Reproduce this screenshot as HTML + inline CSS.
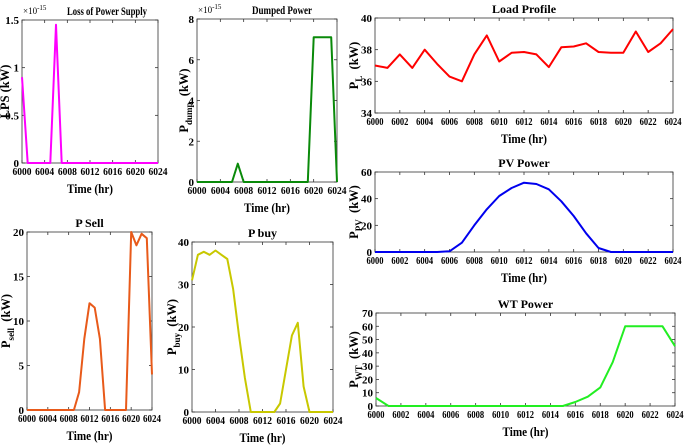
<!DOCTYPE html>
<html><head><meta charset="utf-8"><style>
body{margin:0;background:#fff}
svg{display:block;font-family:"Liberation Serif",serif;font-weight:bold}
</style></head><body>
<svg id="c" width="685" height="447" viewBox="0 0 685 447"></svg>
<script>
const hours=[6000,6001,6002,6003,6004,6005,6006,6007,6008,6009,6010,6011,6012,6013,6014,6015,6016,6017,6018,6019,6020,6021,6022,6023,6024];
const lpsValues=[0.9,0,0,0,0,0,1.45,0,0,0,0,0,0,0,0,0,0,0,0,0,0,0,0,0,0];
const dumpValues=[0,0,0,0,0,0,0,0.9,0,0,0,0,0,0,0,0,0,0,0,0,7.1,7.1,7.1,7.1,0];
const loadValues=[37,36.85,37.7,36.85,38,37.1,36.3,36,37.7,38.9,37.25,37.8,37.85,37.7,36.9,38.15,38.2,38.4,37.85,37.8,37.8,39.15,37.85,38.4,39.3];
const pvValues=[0,0,0,0,0,0,0.5,7,20,32,42,48,52,51,47,38,27,14,3,0,0,0,0,0,0];
const wtValues=[6,0,0,0,0,0,0,0,0,0,0,0,0,0,0,0,3,7,14,33,60,60,60,60,45];
const sellValues=[0,0,0,0,0,0,0,0,0,0,2,8,12,11.5,8,0,0,0,0,0,20,18.5,19.8,19.3,4];
const buyValues=[31,37,37.7,37,38,37,36,29,18,8,0,0,0,0,0,2,10,18,21,6,0,0,0,0,0];
const xTicks4=[6000,6004,6008,6012,6016,6020,6024];
const xTicks2=[6000,6002,6004,6006,6008,6010,6012,6014,6016,6018,6020,6022,6024];
const lpsTicks=[0,0.5,1,1.5];
const dumpTicks=[0,2,4,6,8];
const loadTicks=[34,36,38,40];
const pvTicks=[0,20,40,60];
const wtTicks=[0,10,20,30,40,50,60,70];
const sellTicks=[0,5,10,15,20];
const buyTicks=[0,10,20,30,40];

const NS='http://www.w3.org/2000/svg';
const svg=document.getElementById('c');
function mk(tag,attrs,parent,txt){const e=document.createElementNS(NS,tag);for(const k in attrs)e.setAttribute(k,attrs[k]);if(txt!==undefined)e.textContent=txt;(parent||svg).appendChild(e);return e;}

function panel(p){
  const g=mk('g',{});
  
  
  const sx=v=>p.x0+(v-6000)/24*(p.x1-p.x0);
  const sy=v=>p.y0-(v-p.ymin)/(p.ymax-p.ymin)*(p.y0-p.y1);
  const box=mk('rect',{x:p.x0,y:p.y1,width:p.x1-p.x0,height:p.y0-p.y1,fill:'#fff',stroke:'#333','stroke-width':0.8},g);
  
  
  p.xt.forEach(t=>{const x=sx(t);
    mk('line',{x1:x,x2:x,y1:p.y0,y2:p.y0-3,stroke:'#333','stroke-width':0.8},g);
    mk('line',{x1:x,x2:x,y1:p.y1,y2:p.y1+3,stroke:'#333','stroke-width':0.8},g);
    const tl=mk('text',{x:x,y:p.y0+12,'text-anchor':'middle','font-size':11,textLength:p.tw,lengthAdjust:'spacingAndGlyphs'},g,String(t));
    
    
  });
  p.yt.forEach(t=>{const y=sy(t);
    mk('line',{x1:p.x0,x2:p.x0+3,y1:y,y2:y,stroke:'#333','stroke-width':0.8},g);
    mk('line',{x1:p.x1,x2:p.x1-3,y1:y,y2:y,stroke:'#333','stroke-width':0.8},g);
    const tl=mk('text',{x:p.x0-3,y:y+4,'text-anchor':'end','font-size':11},g,String(t));
    
    
  });
  const pts=hours.map((h,i)=>sx(h).toFixed(1)+','+sy(p.vals[i]).toFixed(1)).join(' ');
  const ln=mk('polyline',{points:pts,fill:'none',stroke:p.color,'stroke-width':2,'stroke-linejoin':'round'},g);
  
  
  const tx=p.tcx||(p.x0+p.x1)/2;
  const ti=mk('text',{x:tx,y:p.y1-5,'text-anchor':'middle','font-size':12,textLength:p.ttw,lengthAdjust:'spacingAndGlyphs'},g,p.title);
  
  
  const xl=mk('text',{x:(p.x0+p.x1)/2,y:p.y0+30,'text-anchor':'middle','font-size':12.5,textLength:46,lengthAdjust:'spacingAndGlyphs'},g,'Time (hr)');
  
  
  const yl=mk('text',{transform:`translate(${p.yl},${(p.y0+p.y1)/2}) rotate(-90)`,'text-anchor':'middle','font-size':12.5},g);
  
  
  mk('tspan',{},yl,p.ylab);
  if(p.sub){mk('tspan',{dy:4,'font-size':9},yl,p.sub);mk('tspan',{dy:-4},yl,'\u00a0\u00a0(kW)');}
  if(p.exp){const e=mk('text',{x:p.x0+1,y:p.y1-6,'font-size':9,'font-weight':'normal'},g);
    
    
    mk('tspan',{},e,'\u00d710');mk('tspan',{dy:-4,'font-size':7},e,'-15');}
}
panel({name:'lps',title:'Loss of Power Supply',tcx:107,ttw:80,tw:19,x0:22,x1:158,y0:163,y1:20,ymin:0,ymax:1.5,xt:xTicks4,yt:lpsTicks,vals:lpsValues,color:'#ff00ff',ylab:'LPS (kW)',yl:9,exp:1});
panel({name:'dumped',title:'Dumped Power',tcx:282,ttw:60,tw:19,x0:197,x1:337,y0:182,y1:19,ymin:0,ymax:8,xt:xTicks4,yt:dumpTicks,vals:dumpValues,color:'#0a8a0a',ylab:'P',sub:'dump',yl:188,exp:1});
panel({name:'load',title:'Load Profile',tw:17,x0:375,x1:673,y0:113,y1:18,ymin:34,ymax:40,xt:xTicks2,yt:loadTicks,vals:loadValues,color:'#ff0000',ylab:'P',sub:'L',yl:358});
panel({name:'pv',title:'PV Power',tw:17,x0:375,x1:673,y0:252,y1:172,ymin:0,ymax:60,xt:xTicks2,yt:pvTicks,vals:pvValues,color:'#0000ee',ylab:'P',sub:'PV',yl:358});
panel({name:'wt',title:'WT Power',tw:17,x0:376,x1:675,y0:406,y1:313,ymin:0,ymax:70,xt:xTicks2,yt:wtTicks,vals:wtValues,color:'#22ee22',ylab:'P',sub:'WT',yl:358});
panel({name:'sell',title:'P Sell',tw:18,x0:27,x1:152,y0:410,y1:232,ymin:0,ymax:20,xt:xTicks4,yt:sellTicks,vals:sellValues,color:'#e85a1a',ylab:'P',sub:'sell',yl:10});
panel({name:'buy',title:'P buy',tw:19,x0:192,x1:333,y0:412,y1:242,ymin:0,ymax:40,xt:xTicks4,yt:buyTicks,vals:buyValues,color:'#c8c800',ylab:'P',sub:'buy',yl:176});
</script>
</body></html>
